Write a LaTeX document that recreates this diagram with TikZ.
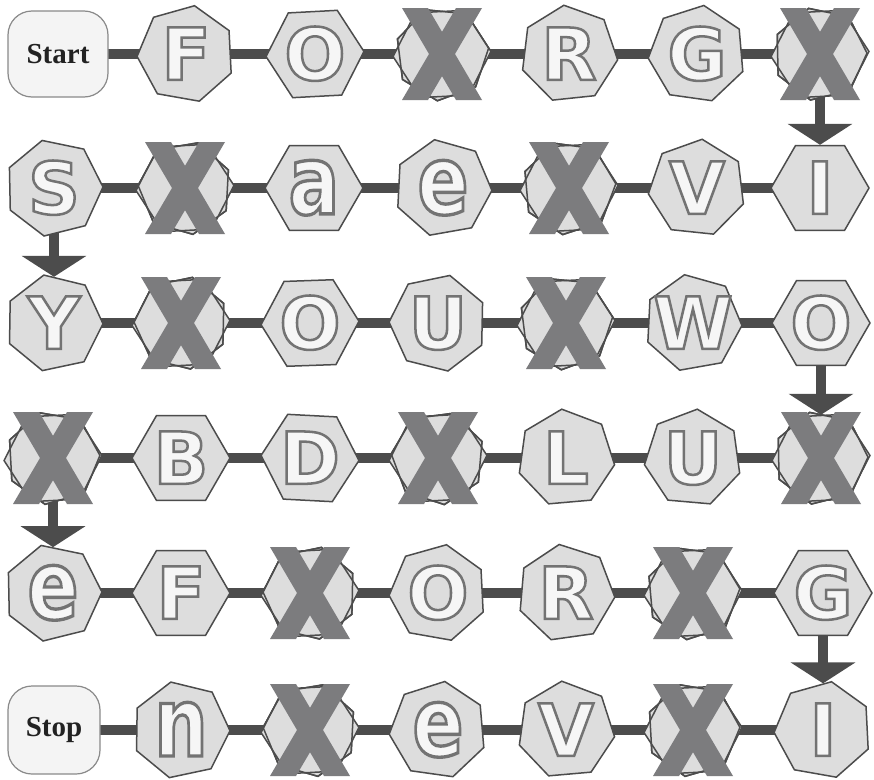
\documentclass[tikz,border=0pt]{standalone}
\usepackage{fontspec}
\setmainfont{DejaVu Sans}
\newfontfamily\termfont{Liberation Serif}
\newfontfamily\tilefont{DejaVu Sans Bold}[FakeBold=3.5]
\usetikzlibrary{shapes.geometric,arrows.meta}
\definecolor{edge}{HTML}{4C4C4C}
\definecolor{hexfill}{HTML}{DDDDDD}
\definecolor{xcol}{HTML}{7C7C7E}
\definecolor{boxfill}{HTML}{F4F4F4}
\definecolor{boxline}{HTML}{8A8A8A}
\definecolor{termtext}{HTML}{222222}
\pgfdeclarelayer{links}
\pgfdeclarelayer{under}
\pgfsetlayers{links,under,main}
\newcommand\lt[1]{\makebox[0pt]{\raisebox{-0.36em}[0pt][0pt]{\special{pdf:bcolor [0.965] [0.45]}#1\special{pdf:ecolor}}}}
\newcommand\lc[1]{\lt{\scalebox{1.05}[1.33]{#1}}}
\tikzset{
  tilebase/.style={regular polygon, draw=edge, line width=1.5pt, fill=hexfill,
    minimum size=98pt, inner sep=0pt, font=\tilefont\fontsize{72}{72}\selectfont},
  hexa/.style={tilebase, regular polygon sides=6},
  hepta/.style={tilebase, regular polygon sides=7},
  termbox/.style={draw=boxline, fill=boxfill, line width=1.2pt, rounded corners=24pt,
    inner sep=0pt, text=termtext, font=\termfont\bfseries\fontsize{29}{29}\selectfont},
  link/.style={draw=edge, line width=10pt},
  downarrow/.style={draw=edge, fill=edge, line width=10pt, -{Triangle[width=64pt,length=21pt]}},
  xmark/.pic={
    \fill[xcol] (-40,-46) -- (-14,-46) -- (40,46) -- (14,46) -- cycle;
    \fill[xcol] (14,-46) -- (40,-46) -- (-14,46) -- (-40,46) -- cycle;
  }
}
\newcommand\crossed[4]{% name, x, y, rotation of second shape
  \node[hexa, shape border rotate=3] (#1) at (#2,#3) {};
  \begin{pgfonlayer}{under}
    \node[hepta, minimum size=94pt, shape border rotate=#4] (#1b) at (#1.center) {};
  \end{pgfonlayer}
  \node[hepta, fill=none, minimum size=94pt, shape border rotate=#4] (#1c) at (#1.center) {};
  \pic at (#1.center) {xmark};
}
\begin{document}
\begin{tikzpicture}[x=1pt,y=-1pt]
\useasboundingbox (0,0) rectangle (874,779);
\begin{pgfonlayer}{links}
\fill[white] (0,0) rectangle (874,779);
\end{pgfonlayer}
% row 1
\node[termbox, minimum width=100pt, minimum height=86pt] (start) at (58,54) {Start};
\node[hepta, shape border rotate=-10] (n12) at (186,54) {\lt{F}};
\node[hexa, shape border rotate=3] (n13) at (315,54) {\lt{O}};
\crossed{n14}{442}{54}{20}
\node[hepta, shape border rotate=6] (n15) at (569,54) {\lt{R}};
\node[hepta, shape border rotate=-8] (n16) at (697,54) {\lt{G}};
\crossed{n17}{820}{54}{14}
% row 2
\node[hepta, shape border rotate=14] (n21) at (54,188) {\lt{S}};
\crossed{n22}{185}{188}{-16}
\node[hexa] (n23) at (314,188) {\lc{a}};
\node[hepta, shape border rotate=10] (n24) at (443,188) {\lc{e}};
\crossed{n25}{569}{188}{18}
\node[hepta, shape border rotate=-6] (n26) at (697,188) {\lt{V}};
\node[hexa] (n27) at (820,188) {\lt{I}};
% row 3
\node[hepta, shape border rotate=12] (n31) at (54,323) {\lt{Y}};
\crossed{n32}{181}{323}{-14}
\node[hexa, shape border rotate=2] (n33) at (310,323) {\lt{O}};
\node[hepta, shape border rotate=-14] (n34) at (438,323) {\lt{U}};
\crossed{n35}{566}{323}{20}
\node[hepta, shape border rotate=10] (n36) at (693,323) {\lt{W}};
\node[hexa] (n37) at (821,323) {\lt{O}};
% row 4
\crossed{n41}{53}{458}{16}
\node[hexa] (n42) at (181,458) {\lt{B}};
\node[hexa, shape border rotate=-3] (n43) at (310,458) {\lt{D}};
\crossed{n44}{438}{458}{-18}
\node[hepta, shape border rotate=5] (n45) at (566,458) {\lt{L}};
\node[hepta, shape border rotate=-5] (n46) at (693,458) {\lt{U}};
\crossed{n47}{821}{458}{14}
% row 5
\node[hepta, shape border rotate=14] (n51) at (53,593) {\lc{e}};
\node[hexa] (n52) at (181,593) {\lt{F}};
\crossed{n53}{310}{593}{-14}
\node[hepta, shape border rotate=-10] (n54) at (438,593) {\lt{O}};
\node[hepta, shape border rotate=8] (n55) at (566,593) {\lt{R}};
\crossed{n56}{693}{593}{18}
\node[hexa] (n57) at (823,593) {\lt{G}};
% row 6
\node[termbox, minimum width=92pt, minimum height=88pt] (stop) at (54,730) {Stop};
\node[hepta, shape border rotate=12] (n62) at (181,730) {\lc{n}};
\crossed{n63}{310}{730}{-16}
\node[hepta, shape border rotate=-8] (n64) at (438,730) {\lc{e}};
\node[hepta, shape border rotate=5] (n65) at (566,730) {\lt{V}};
\crossed{n66}{693}{730}{16}
\node[hepta, shape border rotate=-10] (n67) at (823,730) {\lt{I}};
% connectors
\begin{pgfonlayer}{links}
\draw[link] (start.center) -- (n12.center) -- (n13.center) -- (n14.center) -- (n15.center) -- (n16.center) -- (n17.center);
\draw[link] (n21.center) -- (n22.center) -- (n23.center) -- (n24.center) -- (n25.center) -- (n26.center) -- (n27.center);
\draw[link] (n31.center) -- (n32.center) -- (n33.center) -- (n34.center) -- (n35.center) -- (n36.center) -- (n37.center);
\draw[link] (n41.center) -- (n42.center) -- (n43.center) -- (n44.center) -- (n45.center) -- (n46.center) -- (n47.center);
\draw[link] (n51.center) -- (n52.center) -- (n53.center) -- (n54.center) -- (n55.center) -- (n56.center) -- (n57.center);
\draw[link] (stop.center) -- (n62.center) -- (n63.center) -- (n64.center) -- (n65.center) -- (n66.center) -- (n67.center);
\draw[downarrow] (n17.center) -- (n27.north);
\draw[downarrow] (n21.center) -- (n31.north);
\draw[downarrow] (n37.center) -- (n47.north);
\draw[downarrow] (n41.center) -- (n51.north);
\draw[downarrow] (n57.center) -- (n67.north);
\end{pgfonlayer}
\end{tikzpicture}
\end{document}
